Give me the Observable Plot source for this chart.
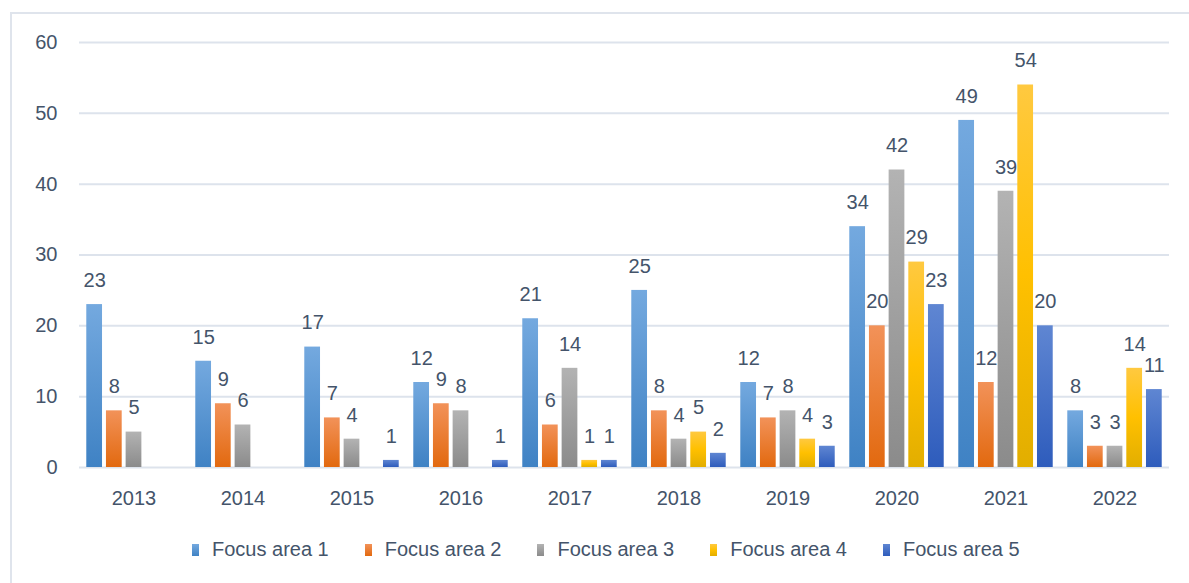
<!DOCTYPE html>
<html>
<head>
<meta charset="utf-8">
<script src="https://cdn.jsdelivr.net/npm/d3@7"></script>
<script src="https://cdn.jsdelivr.net/npm/@observablehq/plot@0.6"></script>
<style>
  html, body { margin: 0; padding: 0; background: #ffffff; }
  #wrap { position: relative; width: 1189px; height: 583px; overflow: hidden; background: #fff; }
  #frame { position: absolute; left: 10px; top: 12px; width: 1300px; height: 700px;
           border-left: 2px solid #dfe4ec; border-top: 2px solid #dfe4ec; }
  #chart { position: absolute; left: 0; top: 0; }
  #legend { position: absolute; left: 192px; top: 533px; }
  div.lg-swatches .lg-swatch { margin-right: 36px !important; }
  div.lg-swatches .lg-swatch > svg { margin-right: 13px !important; }
</style>
</head>
<body>
<svg width="0" height="0" style="position:absolute">
  <defs>
    <linearGradient id="g0" x1="0" y1="0" x2="0" y2="1">
      <stop offset="0" stop-color="#74a9df"/><stop offset="1" stop-color="#3f82c4"/>
    </linearGradient>
    <linearGradient id="g1" x1="0" y1="0" x2="0" y2="1">
      <stop offset="0" stop-color="#f29259"/><stop offset="1" stop-color="#e2690f"/>
    </linearGradient>
    <linearGradient id="g2" x1="0" y1="0" x2="0" y2="1">
      <stop offset="0" stop-color="#b3b3b3"/><stop offset="1" stop-color="#8b8b8b"/>
    </linearGradient>
    <linearGradient id="g3" x1="0" y1="0" x2="0" y2="1">
      <stop offset="0" stop-color="#ffc940"/><stop offset="0.5" stop-color="#ffc000"/><stop offset="1" stop-color="#e2ae00"/>
    </linearGradient>
    <linearGradient id="g4" x1="0" y1="0" x2="0" y2="1">
      <stop offset="0" stop-color="#5f86d2"/><stop offset="1" stop-color="#2e5cbc"/>
    </linearGradient>
  </defs>
</svg>
<div id="wrap">
  <div id="frame"></div>
  <div id="chart"></div>
  <div id="legend"></div>
</div>
<script>
const years = ["2013", "2014", "2015", "2016", "2017", "2018", "2019", "2020", "2021", "2022"];
const seriesNames = ["Focus area 1", "Focus area 2", "Focus area 3", "Focus area 4", "Focus area 5"];
const focusArea1 = [23, 15, 17, 12, 21, 25, 12, 34, 49, 8];
const focusArea2 = [8, 9, 7, 9, 6, 8, 7, 20, 12, 3];
const focusArea3 = [5, 6, 4, 8, 14, 4, 8, 42, 39, 3];
const focusArea4 = [null, null, null, null, 1, 5, 4, 29, 54, 14];
const focusArea5 = [null, null, 1, 1, 1, 2, 3, 23, 20, 11];
const yTicks = [0, 10, 20, 30, 40, 50, 60];

const seriesValues = [focusArea1, focusArea2, focusArea3, focusArea4, focusArea5];
const gradUrls = ["url(#g0)", "url(#g1)", "url(#g2)", "url(#g3)", "url(#g4)"];
const textColor = "#44546A";
const fontFamily = "'Liberation Sans', Arial, sans-serif";

const table = years.flatMap((year, i) =>
  seriesNames.map((s, j) => ({year, series: s, value: seriesValues[j][i]}))
).filter(d => d.value != null);

const chart = Plot.plot({
  width: 1189,
  height: 520,
  marginLeft: 76,
  marginRight: 17,
  marginTop: 42,
  marginBottom: 53,
  style: {fontFamily, fontSize: "20px", color: textColor, background: "transparent", overflow: "visible"},
  fx: {domain: years, padding: 0, label: null, axis: "bottom", tickSize: 0, tickPadding: 23},
  x: {domain: seriesNames, paddingInner: 0.2, paddingOuter: 0.37, axis: null, round: false},
  y: {domain: [0, 60], ticks: yTicks, label: null, tickSize: 0, tickPadding: 22},
  color: {domain: seriesNames, range: gradUrls},
  marks: [
    Plot.gridY(yTicks, {stroke: "#dde3ec", strokeOpacity: 1, strokeWidth: 2}),
    Plot.barY(table, {fx: "year", x: "series", y: "value", fill: "series"}),
    Plot.text(table, {fx: "year", x: "series", y: "value", text: d => String(d.value), dy: -24, fill: textColor})
  ]
});
document.getElementById("chart").appendChild(chart);

const legend = Plot.legend({
  color: {domain: seriesNames, range: gradUrls, type: "ordinal"},
  swatchWidth: 7,
  swatchHeight: 12,
  className: "lg",
  style: {fontFamily, fontSize: "20px", color: textColor}
});
document.getElementById("legend").appendChild(legend);
</script>
</body>
</html>
